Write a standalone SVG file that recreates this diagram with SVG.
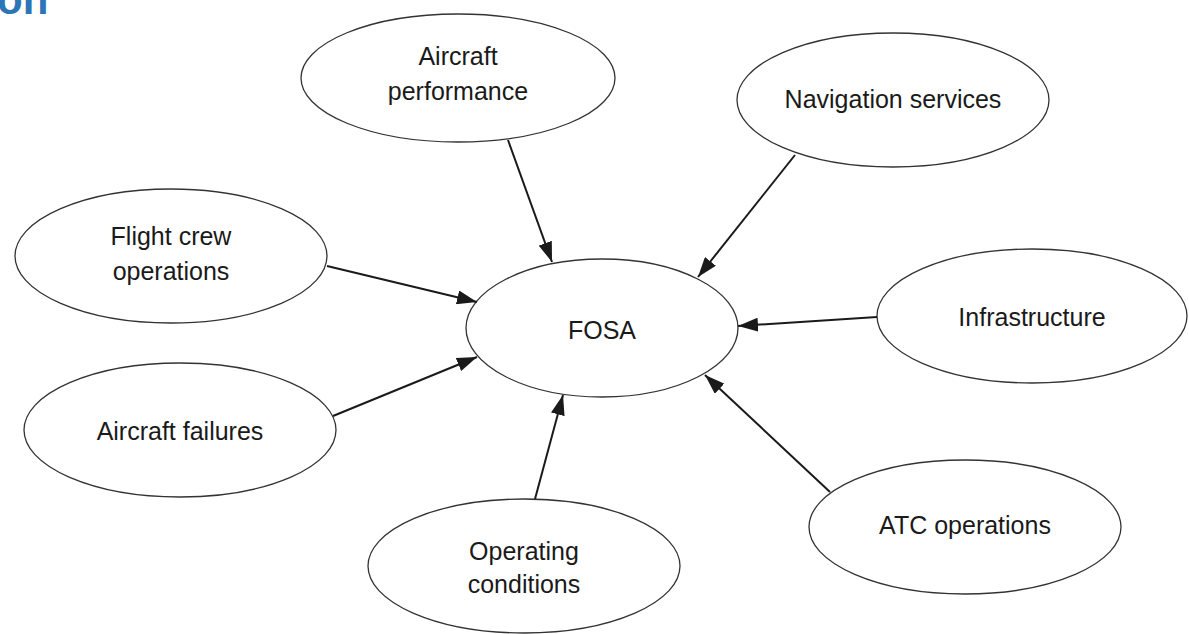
<svg xmlns="http://www.w3.org/2000/svg" width="1189" height="634" viewBox="0 0 1189 634">
<defs>
<style>
.n ellipse{fill:#fff;stroke:#333;stroke-width:1.3}
.n text{font-family:"Liberation Sans",Arial,sans-serif;font-size:25px;fill:#1a1a1a;text-anchor:middle}
.c line{stroke:#1a1a1a;stroke-width:2}
</style>
<marker id="ah" markerWidth="20" markerHeight="14" refX="20" refY="7" orient="auto" markerUnits="userSpaceOnUse">
<path d="M0,0 L20,7 L0,14 Z" fill="#1a1a1a"/>
</marker>
</defs>
<rect width="1189" height="634" fill="#fff"/>
<text x="-3" y="14" font-family="'Liberation Sans',Arial,sans-serif" font-size="42" font-weight="bold" fill="#2E75B6">on</text>
<g id="aircraft-performance" class="n"><ellipse cx="458" cy="78" rx="157" ry="64"/><text x="458" y="65">Aircraft</text><text x="458" y="100">performance</text></g>
<g id="navigation-services" class="n"><ellipse cx="893" cy="100" rx="156" ry="67"/><text x="893" y="108">Navigation services</text></g>
<g id="flight-crew" class="n"><ellipse cx="171" cy="256" rx="156" ry="67"/><text x="171" y="245">Flight crew</text><text x="171" y="280">operations</text></g>
<g id="fosa" class="n"><ellipse cx="602" cy="328" rx="136" ry="69"/><text x="602" y="339">FOSA</text></g>
<g id="infrastructure" class="n"><ellipse cx="1032" cy="316" rx="155" ry="67"/><text x="1032" y="326">Infrastructure</text></g>
<g id="aircraft-failures" class="n"><ellipse cx="180" cy="430" rx="156" ry="67"/><text x="180" y="440">Aircraft failures</text></g>
<g id="operating-conditions" class="n"><ellipse cx="524" cy="566" rx="156" ry="67"/><text x="524" y="560">Operating</text><text x="524" y="593">conditions</text></g>
<g id="atc-operations" class="n"><ellipse cx="965" cy="527" rx="156" ry="67"/><text x="965" y="534">ATC operations</text></g>
<g id="connectors" class="c">
<line x1="508" y1="140" x2="552" y2="262" marker-end="url(#ah)"/>
<line x1="795" y1="155" x2="698" y2="277" marker-end="url(#ah)"/>
<line x1="327" y1="266" x2="477" y2="302" marker-end="url(#ah)"/>
<line x1="877" y1="317" x2="738" y2="326" marker-end="url(#ah)"/>
<line x1="333" y1="416" x2="477" y2="357" marker-end="url(#ah)"/>
<line x1="535" y1="499" x2="563" y2="395" marker-end="url(#ah)"/>
<line x1="830" y1="492" x2="705" y2="375" marker-end="url(#ah)"/>
</g>
</svg>
